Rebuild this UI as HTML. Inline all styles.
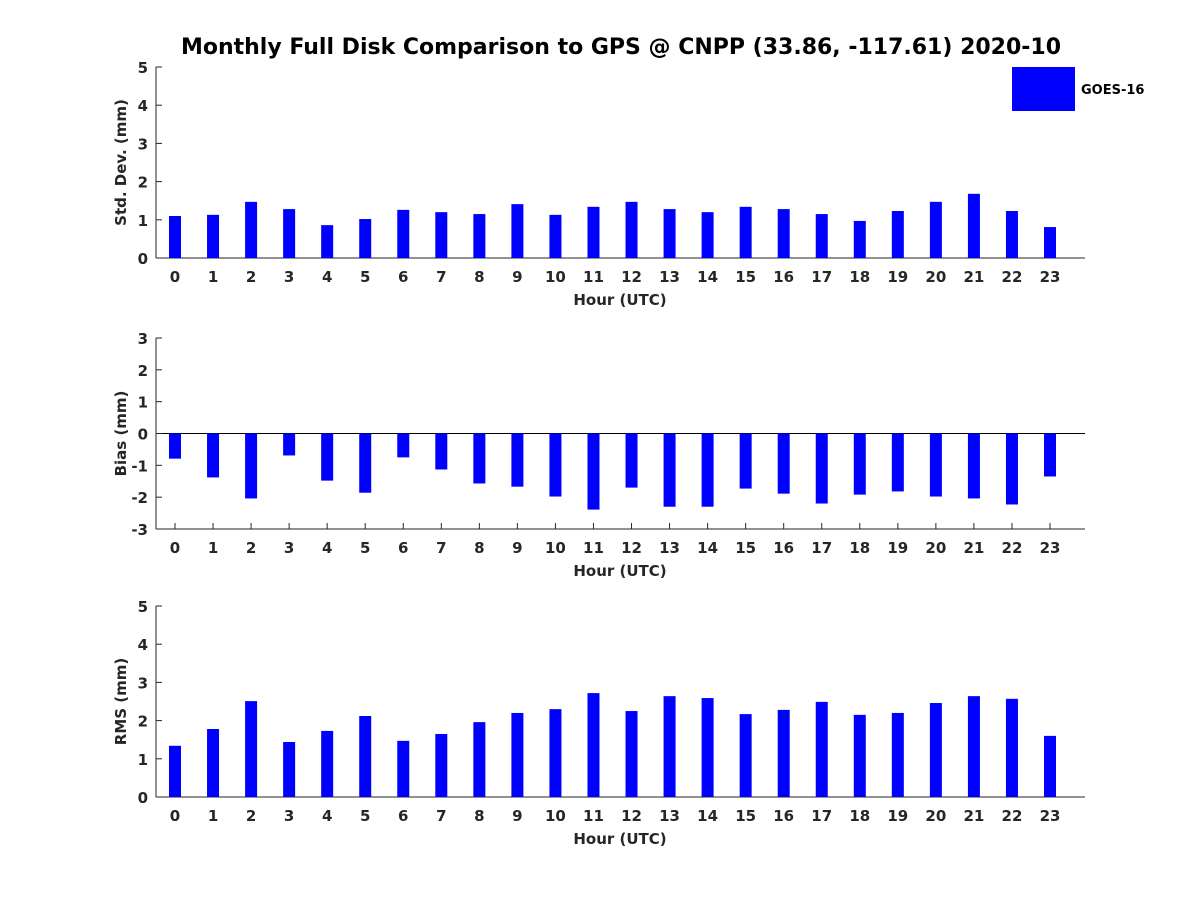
<!DOCTYPE html>
<html><head><meta charset="utf-8"><style>
body{margin:0;background:#fff}
svg text{font-family:"DejaVu Sans","Liberation Sans",sans-serif;font-weight:bold;fill:#262626}
</style></head><body>
<svg id="chart" width="1200" height="900" xmlns="http://www.w3.org/2000/svg">
<text x="621" y="54" font-size="22" text-anchor="middle" style="fill:#000">Monthly Full Disk Comparison to GPS @ CNPP (33.86, -117.61) 2020-10</text>
<rect x="1012" y="67" width="63" height="44" fill="#0000ff"/>
<text x="1081" y="94" font-size="13" style="fill:#000">GOES-16</text>
</svg>
<script>
const hours=[0,1,2,3,4,5,6,7,8,9,10,11,12,13,14,15,16,17,18,19,20,21,22,23];
const stdDev=[1.10,1.13,1.47,1.28,0.86,1.02,1.26,1.20,1.15,1.41,1.13,1.34,1.47,1.28,1.20,1.34,1.28,1.15,0.97,1.23,1.47,1.68,1.23,0.81];
const bias=[-0.79,-1.38,-2.04,-0.69,-1.48,-1.86,-0.75,-1.13,-1.57,-1.67,-1.98,-2.39,-1.70,-2.30,-2.30,-1.73,-1.89,-2.20,-1.92,-1.82,-1.98,-2.04,-2.23,-1.35];
const rms=[1.34,1.78,2.51,1.44,1.73,2.12,1.47,1.65,1.96,2.20,2.30,2.72,2.25,2.64,2.59,2.17,2.28,2.49,2.15,2.20,2.46,2.64,2.57,1.60];
const stdTicks=[0,1,2,3,4,5];
const biasTicks=[-3,-2,-1,0,1,2,3];
const rmsTicks=[0,1,2,3,4,5];
const svg=document.getElementById('chart');
const NS='http://www.w3.org/2000/svg';
function mk(tag,attrs){const e=document.createElementNS(NS,tag);for(const k in attrs)e.setAttribute(k,attrs[k]);svg.appendChild(e);return e;}
const xL=156,xR=1085;
function xS(h){return 175+(h-hours[0])*(1050-175)/(hours[hours.length-1]-hours[0]);}
function panel(name,vals,ticks,top,bottom,ylabel){
  const lo=ticks[0],hi=ticks[ticks.length-1];
  const yS=v=>bottom-(v-lo)*(bottom-top)/(hi-lo);
  const base=Math.max(lo,Math.min(0,hi));
  let l=mk('line',{x1:xL,y1:top,x2:xL,y2:bottom,stroke:'#262626','stroke-width':1});
  
  
  l=mk('line',{x1:xL,y1:bottom,x2:xR,y2:bottom,stroke:'#262626','stroke-width':1});
  
  
  if(lo<0){l=mk('line',{x1:xL,y1:yS(0),x2:xR,y2:yS(0),stroke:'#000','stroke-width':1});
    
    }
  ticks.forEach(t=>{const y=yS(t);
    let tk=mk('line',{x1:xL,y1:y,x2:xL+6,y2:y,stroke:'#262626'});
    
    
    const tx=mk('text',{x:xL-8,y:y+6,'font-size':15,'text-anchor':'end'});tx.textContent=t;
    
    });
  hours.forEach((h,i)=>{const x=xS(h);
    let tk=mk('line',{x1:x,y1:bottom,x2:x,y2:bottom-6,stroke:'#262626'});
    
    
    const tx=mk('text',{x:x,y:bottom+24,'font-size':15,'text-anchor':'middle'});tx.textContent=h;
    
    
    const v=vals[i],y0=yS(base),y1=yS(v);
    const b=mk('rect',{x:x-6,y:Math.min(y0,y1),width:12,height:Math.abs(y1-y0),fill:'#0000ff'});
    
    });
  let xl=mk('text',{x:620,y:bottom+47,'font-size':15,'text-anchor':'middle'});xl.textContent='Hour (UTC)';
  
  
  const cy=(top+bottom)/2;
  let yl=mk('text',{x:0,y:0,'font-size':15,'text-anchor':'middle',transform:`translate(126,${cy}) rotate(-90)`});yl.textContent=ylabel;
  
  
}
panel('std-dev',stdDev,stdTicks,67,258,'Std. Dev. (mm)');
panel('bias',bias,biasTicks,338,529,'Bias (mm)');
panel('rms',rms,rmsTicks,606,797,'RMS (mm)');
</script>
</body></html>
